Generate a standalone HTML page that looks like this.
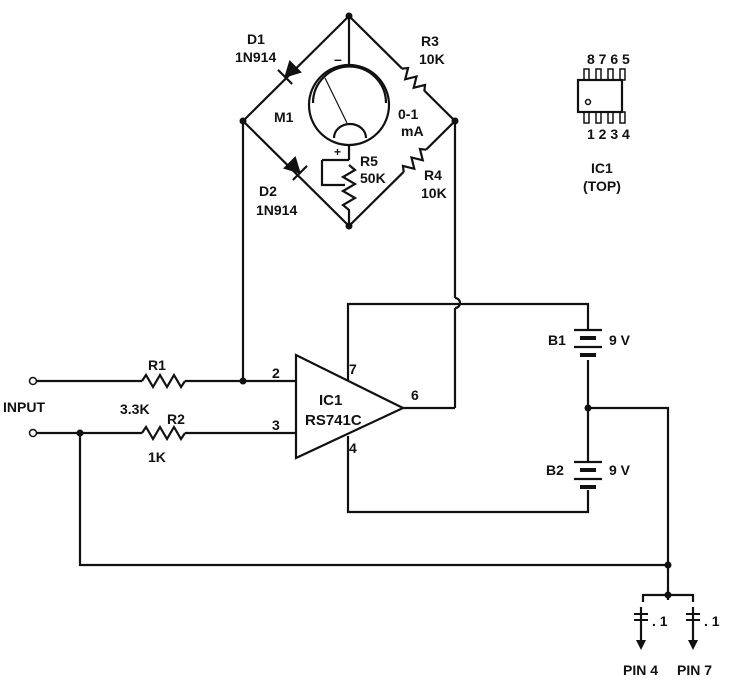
<!DOCTYPE html>
<html><head><style>
body{margin:0;background:#fff}
svg text{font-family:"Liberation Sans",sans-serif;font-weight:bold;fill:#111}
</style></head><body>
<svg width="734" height="682" viewBox="0 0 734 682" xmlns="http://www.w3.org/2000/svg">
<g stroke="#111" stroke-width="2.2" fill="none">
<!-- diamond -->
<polyline points="243,121 349,16 455,121 349,226 243,121"/>
<line x1="349" y1="16" x2="349" y2="64"/>
<circle cx="349" cy="105" r="40" fill="#fff"/>
<path d="M313,103 A36,36 0 0 1 386,103"/>
<path d="M334,138 A16,14 0 0 1 366,138"/>
<line x1="325" y1="78" x2="347" y2="123" stroke-width="1.2"/>
<!-- R5 -->
<line x1="349" y1="145" x2="349" y2="160"/>
<polyline points="322,160 349,160"/>
<polyline points="322,160 322,185 345,185"/>
<polyline points="349,165 355,170 343,177 355,184 343,191 355,198 343,205 349,210 349,226"/>
<!-- R3, R4 along edges -->
<g transform="translate(413,80) rotate(45)">
<line x1="-16" y1="0" x2="16" y2="0" stroke="#fff" stroke-width="5"/>
<polyline points="-16,0 -12,-5 -6,5 0,-5 6,5 12,-5 16,0"/>
</g>
<g transform="translate(415,161) rotate(-45)">
<line x1="-16" y1="0" x2="16" y2="0" stroke="#fff" stroke-width="5"/>
<polyline points="-16,0 -12,-5 -6,5 0,-5 6,5 12,-5 16,0"/>
</g>
<!-- wires -->
<line x1="243" y1="121" x2="243" y2="381"/>
<line x1="455" y1="121" x2="455" y2="298"/>
<path d="M455,298 A5,5 0 0 1 455,308"/>
<line x1="455" y1="308" x2="455" y2="408"/>
<line x1="36" y1="381" x2="142" y2="381"/>
<polyline points="142,381 146,375 153,387 160,375 167,387 174,375 181,387 185,381"/>
<line x1="185" y1="381" x2="296" y2="381"/>
<line x1="36" y1="433" x2="142" y2="433"/>
<polyline points="142,433 146,427 153,439 160,427 167,439 174,427 181,439 185,433"/>
<line x1="185" y1="433" x2="296" y2="433"/>
<polygon points="296,355 296,458 403,408"/>
<line x1="403" y1="408" x2="455" y2="408"/>
<polyline points="348,380 348,304 588,304 588,330"/>
<polyline points="348,436 348,512 588,512 588,490"/>
<line x1="588" y1="360" x2="588" y2="462"/>
<polyline points="588,408 668,408 668,565 80,565 80,433"/>
<line x1="668" y1="565" x2="668" y2="590"/>
<polyline points="643,602 643,595 693,595 693,602"/>
<line x1="668" y1="590" x2="668" y2="600"/>
<line x1="641" y1="607" x2="641" y2="640"/>
<line x1="693" y1="607" x2="693" y2="640"/>
<!-- IC package -->
<rect x="578" y="80" width="44" height="32"/>
</g>
<!-- diodes -->
<g transform="translate(290,72) rotate(135)" fill="#111" stroke="#111" stroke-width="2.2">
<polygon points="-7,-7 -7,7 6,0"/><line x1="7" y1="-10" x2="7" y2="10"/>
</g>
<g transform="translate(295,168) rotate(45)" fill="#111" stroke="#111" stroke-width="2.2">
<polygon points="-7,-7 -7,7 6,0"/><line x1="7" y1="-10" x2="7" y2="10"/>
</g>
<g stroke="#111" stroke-width="1.5" fill="none">
<rect x="584" y="69" width="5" height="11"/><rect x="596" y="69" width="5" height="11"/><rect x="608" y="69" width="5" height="11"/><rect x="620" y="69" width="5" height="11"/>
<rect x="584" y="112" width="5" height="11"/><rect x="596" y="112" width="5" height="11"/><rect x="608" y="112" width="5" height="11"/><rect x="620" y="112" width="5" height="11"/>
<circle cx="588" cy="102" r="2.5"/>
<circle cx="33" cy="381" r="3.5" fill="#fff"/><circle cx="33" cy="433" r="3.5" fill="#fff"/>
</g>
<g stroke="#111" stroke-width="2.2" fill="none">
<line x1="574" y1="330" x2="602" y2="330"/><line x1="580" y1="338" x2="596" y2="338" stroke-width="4"/>
<line x1="574" y1="347" x2="602" y2="347"/><line x1="580" y1="355" x2="596" y2="355" stroke-width="4"/>
<line x1="574" y1="462" x2="602" y2="462"/><line x1="580" y1="470" x2="596" y2="470" stroke-width="4"/>
<line x1="574" y1="479" x2="602" y2="479"/><line x1="580" y1="487" x2="596" y2="487" stroke-width="4"/>
</g>
<g fill="#111">
<circle cx="243" cy="121" r="3.5"/><circle cx="455" cy="121" r="3.5"/><circle cx="349" cy="16" r="3.5"/><circle cx="349" cy="226" r="3.5"/>
<circle cx="243" cy="381" r="3.5"/><circle cx="80" cy="433" r="3.5"/><circle cx="588" cy="408" r="3.5"/><circle cx="668" cy="565" r="3.5"/><circle cx="668" cy="595" r="3.5"/>
<polygon points="636,640 646,640 641,650"/><polygon points="688,640 698,640 693,650"/>
<rect x="634" y="613" width="14" height="2"/><rect x="634" y="619" width="14" height="2"/>
<rect x="686" y="613" width="14" height="2"/><rect x="686" y="619" width="14" height="2"/>
</g>
<g font-size="14">
<text x="247" y="44">D1</text><text x="235" y="62">1N914</text>
<text x="274" y="122">M1</text>
<text x="259" y="196">D2</text><text x="256" y="215">1N914</text>
<text x="421" y="46">R3</text><text x="419" y="64">10K</text>
<text x="398" y="119">0-1</text><text x="401" y="136">mA</text>
<text x="360" y="166">R5</text><text x="360" y="183">50K</text>
<text x="424" y="180">R4</text><text x="421" y="198">10K</text>
<text x="334" y="64">–</text><text x="334" y="156" font-size="12">+</text>
<text x="587" y="64">8 7 6 5</text><text x="587" y="139">1 2 3 4</text>
<text x="591" y="173">IC1</text><text x="583" y="191">(TOP)</text>
<text x="148" y="370">R1</text><text x="120" y="414">3.3K</text>
<text x="167" y="424">R2</text><text x="148" y="462">1K</text>
<text x="3" y="412">INPUT</text>
<text x="272" y="378">2</text><text x="272" y="430">3</text>
<text x="349" y="374">7</text><text x="349" y="453">4</text><text x="411" y="400">6</text>
<text x="319" y="405" font-size="15">IC1</text><text x="305" y="425" font-size="15">RS741C</text>
<text x="548" y="345">B1</text><text x="609" y="345">9 V</text>
<text x="546" y="475">B2</text><text x="609" y="475">9 V</text>
<text x="652" y="626">. 1</text><text x="704" y="626">. 1</text>
<text x="623" y="675">PIN 4</text><text x="677" y="675">PIN 7</text>
</g>
</svg>
</body></html>
